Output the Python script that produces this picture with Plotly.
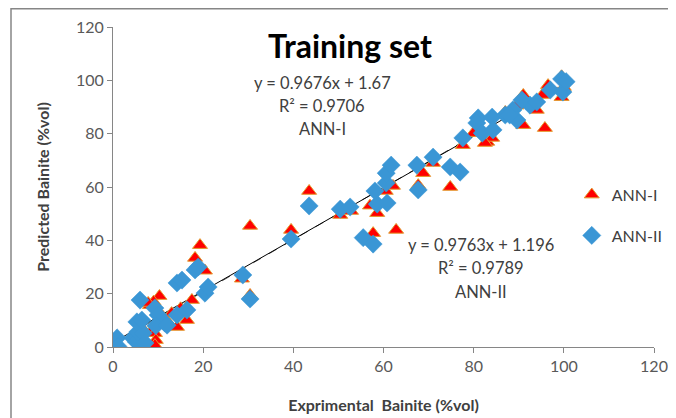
import plotly.graph_objects as go

# ANN-I (red triangles)
ann1_x = [0, 8.2, 10.3, 9.0, 7.8, 13.0, 12.2, 16.4, 14.2, 17.5, 8.7, 9.3, 9.5, 9.3,
          19.3, 18.2, 20.4, 28.6, 30.4, 30.4, 39.5, 43.5, 50.4, 52.8, 57.7, 62.8,
          58.6, 62.1, 67.7, 68.8, 71.0, 74.8, 77.6, 79.9, 83.0, 84.1, 82.5, 87.0,
          91.0, 91.0, 94.0, 95.8, 95.2, 96.5, 99.5, 99.5, 100.0, 57.0, 60.5, 89.5,
          5.5, 11.0, 15.0, 6.5]
ann1_y = [1.5, 15.7, 19.1, 17.0, 16.5, 12.7, 9.4, 10.1, 7.5, 17.6, 6.4, 5.2, 2.6, 0.7,
          38.2, 33.4, 28.6, 25.6, 19.5, 45.4, 43.9, 58.5, 49.5, 51.0, 42.7, 43.9,
          50.2, 60.4, 60.7, 65.2, 69.0, 60.0, 75.7, 80.2, 76.9, 78.4, 76.5, 88.1,
          83.2, 94.5, 88.9, 82.1, 94.5, 98.2, 93.7, 101.5, 97.5, 53.0, 58.5, 90.5,
          4.0, 11.5, 14.5, 7.0]

# ANN-II (blue diamonds)
ann2_x = [0.9, 1.1, 4.4, 5.2, 5.5, 6.7, 7.1, 5.3, 6.4, 6.0, 9.3, 10.0, 11.5, 14.2,
          16.4, 14.2, 15.3, 18.2, 18.9, 20.4, 21.1, 28.8, 30.4, 39.5, 43.5, 50.4,
          52.6, 55.5, 57.7, 58.6, 60.8, 58.1, 60.6, 60.6, 61.7, 67.4, 67.7, 71.0,
          74.8, 77.0, 77.6, 81.0, 80.7, 84.1, 81.9, 84.3, 87.0, 88.7, 89.6, 92.5,
          90.7, 94.0, 97.0, 99.8, 99.5, 100.5, 88.0, 9.5, 12.0]
ann2_y = [3.4, 0.2, 3.4, 1.9, 5.6, 5.2, 1.5, 9.4, 10.1, 17.6, 14.6, 12.0, 9.0, 12.0,
          13.9, 24.0, 25.1, 28.9, 30.0, 20.2, 22.5, 27.0, 18.0, 40.5, 52.9, 51.7,
          52.5, 41.0, 38.6, 53.6, 54.0, 58.5, 61.5, 65.2, 68.2, 68.2, 58.9, 71.2,
          67.5, 65.6, 78.4, 85.9, 84.0, 86.2, 80.2, 81.4, 87.0, 88.9, 85.1, 90.7,
          92.6, 91.9, 96.4, 95.6, 100.5, 99.5, 87.0, 8.0, 8.2]

# trendline coefficients
fit1 = (0.9676, 1.67)
fit2 = (0.9763, 1.196)
fit_x = [0, 100]

x_ticks = [0, 20, 40, 60, 80, 100, 120]
y_ticks = [0, 20, 40, 60, 80, 100, 120]

FONT = "Lato"

fig = go.Figure()
fig.add_trace(go.Scatter(
    x=fit_x, y=[fit2[0] * v + fit2[1] for v in fit_x], mode="lines",
    line=dict(color="#555555", width=1, dash="dash"), showlegend=False, hoverinfo="skip"))
fig.add_trace(go.Scatter(
    x=fit_x, y=[fit1[0] * v + fit1[1] for v in fit_x], mode="lines",
    line=dict(color="black", width=1), showlegend=False, hoverinfo="skip"))
fig.add_trace(go.Scatter(
    x=ann1_x, y=ann1_y, mode="markers", name="ANN-I", legendgroup="a",
    marker=dict(symbol="triangle-up", size=13, color="#FF0000",
                line=dict(color="#E39A2C", width=1))))
fig.add_trace(go.Scatter(
    x=ann2_x, y=ann2_y, mode="markers", name="ANN-II", legendgroup="b",
    marker=dict(symbol="diamond", size=14, color="#3A96D5",
                line=dict(color="#3A96D5", width=0.5))))

axis_common = dict(
    range=[0, 120], tickvals=x_ticks, showgrid=False, zeroline=False,
    showline=True, linecolor="#868686", linewidth=1, automargin=False,
    ticks="outside", ticklen=5, tickcolor="#868686",
    tickfont=dict(family=FONT, size=16, color="#595959"),
)

# page body has an 8px margin: figure is sized/offset to land where the reference is
fig.update_layout(
    width=668, height=410,
    margin=dict(l=105, r=22, t=19, b=71, autoexpand=False),
    paper_bgcolor="white", plot_bgcolor="white",
    font=dict(family=FONT),
    xaxis=dict(**axis_common,
               title=dict(text="<b>Exprimental  Bainite (%vol)</b>", standoff=25,
                          font=dict(family=FONT, size=16, color="#404040"))),
    yaxis=dict(**{**axis_common, "tickvals": y_ticks},
               title=dict(text="<b>Predicted Bainite (%vol)</b>", standoff=22,
                          font=dict(family=FONT, size=16, color="#404040"))),
    legend=dict(x=0.848, y=0.529, xanchor="left", yanchor="top",
                font=dict(family=FONT, size=16, color="#404040"),
                tracegroupgap=17, bgcolor="rgba(0,0,0,0)"),
    showlegend=True,
)

annos = [
    dict(text="<b>Training set</b>", x=350, y=45, size=32, color="black"),
    dict(text="y = 0.9676x + 1.67", x=322, y=83, size=16.5, color="#404040"),
    dict(text="R² = 0.9706", x=322, y=106, size=16.5, color="#404040"),
    dict(text="ANN-I", x=322, y=129, size=16.5, color="#404040"),
    dict(text="y = 0.9763x + 1.196", x=481, y=245, size=16.5, color="#404040"),
    dict(text="R² = 0.9789", x=481, y=268, size=16.5, color="#404040"),
    dict(text="ANN-II", x=481, y=292, size=16.5, color="#404040"),
]
for a in annos:
    fig.add_annotation(
        text=a["text"], xref="paper", yref="paper",
        x=(a["x"] - 113) / 541, y=(347 - a["y"]) / 320,
        xanchor="center", yanchor="middle", showarrow=False,
        font=dict(family=FONT, size=a["size"], color=a["color"]))

# outer chart frame
fig.add_shape(type="rect", xref="paper", yref="paper",
              x0=(11 - 113) / 541, x1=(700 - 113) / 541,
              y0=(347 - 440) / 320, y1=(347 - 8.8) / 320,
              line=dict(color="#868686", width=1.5), fillcolor="rgba(0,0,0,0)",
              layer="below")

fig.write_html("out.html")
